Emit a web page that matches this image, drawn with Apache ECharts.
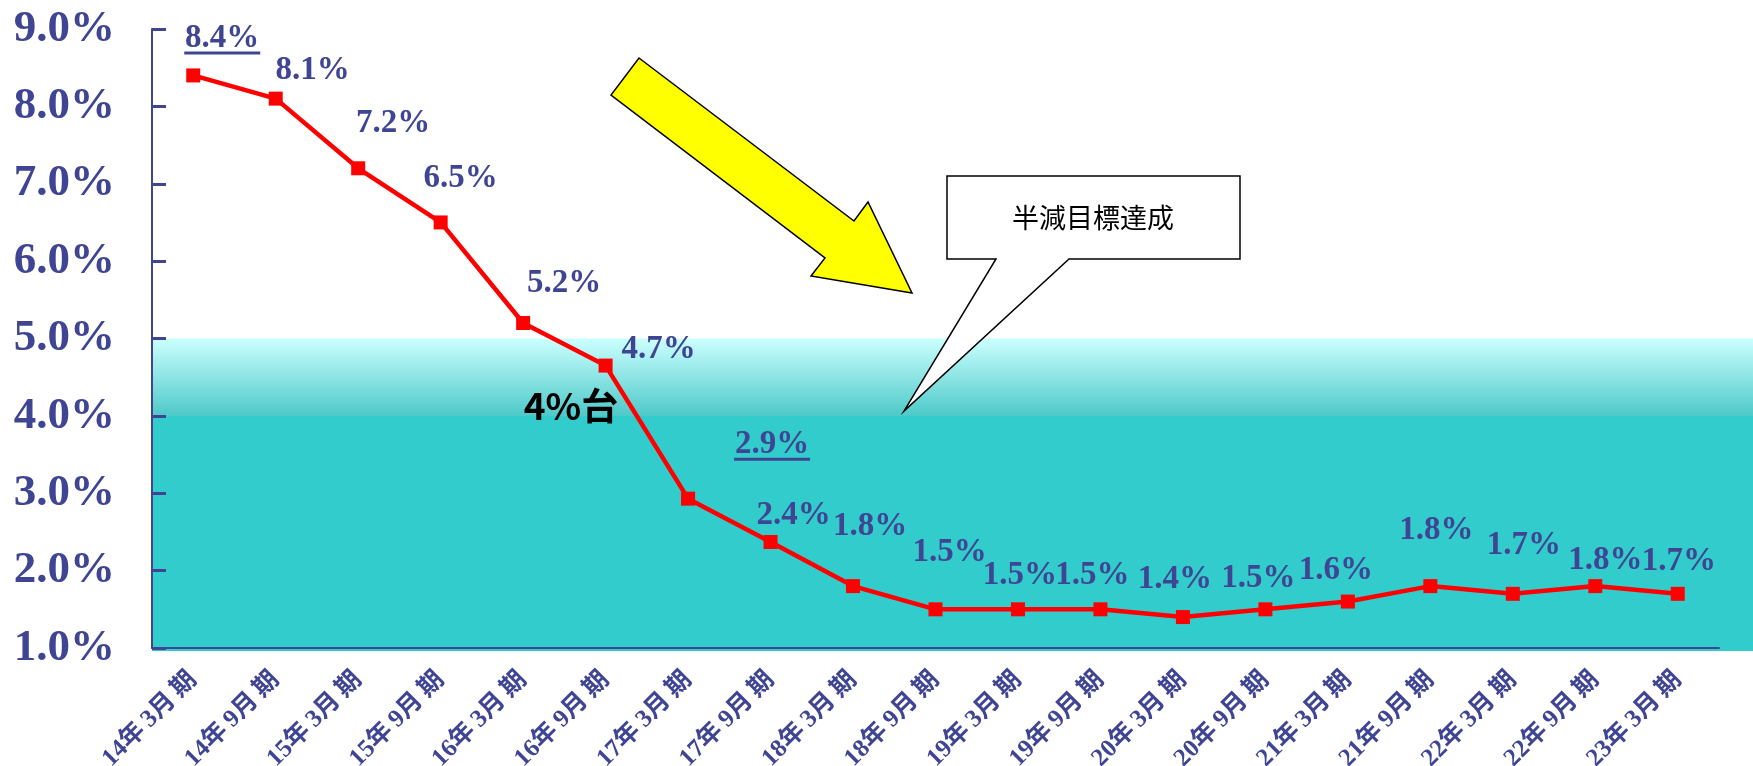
<!DOCTYPE html>
<html>
<head>
<meta charset="utf-8">
<title>半減目標達成</title>
<script src="https://cdn.jsdelivr.net/npm/echarts@6/dist/echarts.min.js"></script>
<style>
  html, body { margin: 0; padding: 0; background: #fff; }
  #main { width: 1753px; height: 766px; }
</style>
</head>
<body>
<div id="main"></div>
<script>
// 期ごとのカテゴリ
const categories = [
  '14年3月期', '14年9月期', '15年3月期', '15年9月期', '16年3月期',
  '16年9月期', '17年3月期', '17年9月期', '18年3月期', '18年9月期',
  '19年3月期', '19年9月期', '20年3月期', '20年9月期', '21年3月期',
  '21年9月期', '22年3月期', '22年9月期', '23年3月期'
]
// 比率 (%)
const rateValues = [
  8.4, 8.1, 7.2, 6.5, 5.2, 4.65, 2.93, 2.37, 1.8, 1.5,
  1.5, 1.5, 1.4, 1.5, 1.6, 1.8, 1.7, 1.8, 1.7
]
// y軸の目盛
const yMin = 1
const yMax = 9
const yStep = 1
// 帯の上端とグラデーションの終わり
const bandTop = 5
const bandFade = 4
// 下線付きのラベル
const underlined = [0, 6]

// ラベルの位置調整 (点からのずれ, px)
const labelOffsets = [
  [29, -37], [37, -28], [35, -45], [20, -44], [41, -40],
  [53, -16], [84, -54], [23, -27], [17, -60], [14, -57],
  [2, -34], [-8, -34], [-8, -38], [-7, -31], [-12, -31],
  [6, -56], [11, -48], [10, -26], [1, -32]
]

const navy = '#3F4593'
const serif = "'Liberation Serif', 'Times New Roman', 'Noto Sans CJK JP', serif"

const chart = echarts.init(document.getElementById('main'))

const option = {
  backgroundColor: '#fff',
  animation: false,
  grid: {
    left: 152,
    right: 34,
    top: 29,
    bottom: 118,
    containLabel: false,
    // ラベルがはみ出してもグリッドを縮めない
    outerBoundsMode: 'none'
  },
  xAxis: {
    type: 'category',
    data: categories,
    boundaryGap: true,
    axisLine: { lineStyle: { color: navy, width: 2 } },
    axisTick: { inside: true, length: 8, lineStyle: { color: navy, width: 2 } },
    axisLabel: {
      rotate: 45,
      margin: 28,
      color: navy,
      fontFamily: serif,
      fontWeight: 'bold',
      fontSize: 25,
      // 年と月の後ろに少し隙間を入れる
      formatter: (v) => v.replace(/(年|月)/g, '$1\u2009')
    }
  },
  yAxis: {
    type: 'value',
    min: yMin,
    max: yMax,
    interval: yStep,
    splitLine: { show: false },
    axisLine: { show: true, lineStyle: { color: navy, width: 2 } },
    axisTick: { show: true, inside: true, length: 14, lineStyle: { color: navy, width: 3 } },
    axisLabel: {
      margin: 37,
      color: navy,
      fontFamily: serif,
      fontWeight: 'bold',
      fontSize: 45,
      formatter: (v) => v.toFixed(1) + '%'
    }
  },
  series: [
    {
      type: 'line',
      data: rateValues.map((v, i) => ({
        value: v,
        label: { offset: labelOffsets[i] }
      })),
      symbol: 'rect',
      symbolSize: 14,
      lineStyle: { color: '#FF0000', width: 4.5 },
      itemStyle: { color: '#FF0000' },
      z: 5,
      label: {
        show: true,
        position: 'inside',
        align: 'center',
        verticalAlign: 'middle',
        color: navy,
        fontFamily: serif,
        fontWeight: 'bold',
        fontSize: 33,
        formatter: (p) => p.value.toFixed(1) + '%'
      }
    }
  ]
}
chart.setOption(option)

// 軸のスケールから帯と下線を描く
const yTopPx = chart.convertToPixel({ yAxisIndex: 0 }, bandTop)
const yFadePx = chart.convertToPixel({ yAxisIndex: 0 }, bandFade)
const yBottomPx = chart.convertToPixel({ yAxisIndex: 0 }, yMin) + 3
const axisLeft = 152
const bandH = yBottomPx - yTopPx
const fadeStop = (yFadePx - yTopPx) / bandH

const graphics = [
  {
    type: 'rect',
    z: -10,
    silent: true,
    shape: { x: axisLeft, y: yTopPx, width: 1753 - axisLeft, height: bandH },
    style: {
      fill: new echarts.graphic.LinearGradient(0, 0, 0, 1, [
        { offset: 0, color: '#CCFFFF' },
        { offset: fadeStop, color: '#4EC9C9' },
        { offset: fadeStop + 0.001, color: '#33CCCC' },
        { offset: 1, color: '#33CCCC' }
      ])
    }
  }
]

underlined.forEach((i) => {
  const pt = chart.convertToPixel({ gridIndex: 0 }, [i, rateValues[i]])
  const cx = pt[0] + labelOffsets[i][0]
  const cy = pt[1] + labelOffsets[i][1]
  graphics.push({
    type: 'rect',
    z: 20,
    shape: { x: cx - 38, y: cy + 13, width: 76, height: 3 },
    style: { fill: navy }
  })
})

// 黄色の矢印
graphics.push({
  type: 'polygon',
  z: 20,
  shape: {
    points: [
      [639, 58], [854, 221], [868, 202], [912, 293],
      [811, 276], [825, 258], [611, 95]
    ]
  },
  style: { fill: '#FFFF00', stroke: '#000', lineWidth: 1.5 }
})

// 吹き出し
graphics.push({
  type: 'polygon',
  z: 20,
  shape: {
    points: [
      [947, 176], [1240, 176], [1240, 259], [1069, 259],
      [904, 411], [996, 259], [947, 259]
    ]
  },
  style: { fill: '#fff', stroke: '#000', lineWidth: 1.5 }
})
graphics.push({
  type: 'text',
  z: 21,
  x: 1093,
  y: 218,
  style: {
    text: '半減目標達成',
    fill: '#000',
    font: "27px 'Noto Sans CJK JP'",
    align: 'center',
    verticalAlign: 'middle'
  }
})

// 4%台
graphics.push({
  type: 'text',
  z: 21,
  x: 571,
  y: 406,
  style: {
    text: '4%台',
    fill: '#000',
    font: "bold 37px 'Noto Sans CJK JP'",
    align: 'center',
    verticalAlign: 'middle'
  }
})

chart.setOption({ graphic: graphics })
</script>
</body>
</html>
